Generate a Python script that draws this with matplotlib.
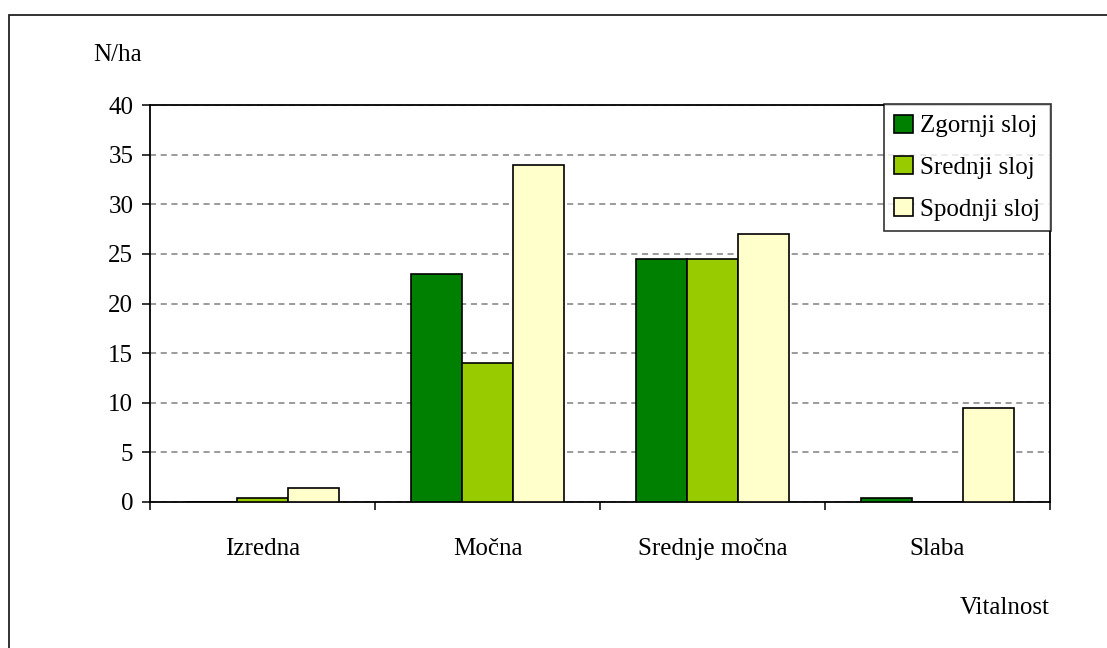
import matplotlib
matplotlib.use("Agg")
import matplotlib.pyplot as plt
import numpy as np
from matplotlib.patches import Rectangle

plt.rcParams['font.family'] = ['Liberation Serif', 'DejaVu Serif']

categories = ["Izredna", "Močna", "Srednje močna", "Slaba"]
series_names = ["Zgornji sloj", "Srednji sloj", "Spodnji sloj"]
zgornji = [0.0, 23.0, 24.5, 0.4]
srednji = [0.4, 14.0, 24.5, 0.0]
spodnji = [1.4, 34.0, 27.0, 9.5]
colors = ["#008000", "#99CC00", "#FFFFCC"]
y_ticks = [0, 5, 10, 15, 20, 25, 30, 35, 40]

W, H = 1107, 648
fig = plt.figure(figsize=(W / 100, H / 100), dpi=100)
fig.patch.set_facecolor("white")

# outer chart-area frame
fig.add_artist(Rectangle((9 / W, -0.1), 1.2, 1 - 15 / H + 0.1,
                         transform=fig.transFigure, fill=False,
                         edgecolor="#222222", linewidth=1.3))

ax = fig.add_axes([150 / W, (H - 502) / H, 900 / W, 397 / H])

x = np.arange(len(categories))
bw = 0.227
for i, (vals, name, col) in enumerate(zip([zgornji, srednji, spodnji], series_names, colors)):
    ax.bar(x + (i - 1) * bw, vals, bw, color=col, edgecolor="black",
           linewidth=1.2, label=name, zorder=3)

ax.set_xlim(-0.5, len(categories) - 0.5)
ax.set_ylim(0, 40)
ax.set_yticks(y_ticks)
ax.yaxis.grid(True, linestyle=(0, (4, 3)), color="#808080", linewidth=1.1, zorder=0)
ax.set_axisbelow(True)

# category labels centred, ticks on category boundaries
ax.set_xticks(np.arange(-0.5, len(categories), 1.0))
ax.set_xticklabels([])
ax.set_xticks(x, minor=True)
ax.set_xticklabels(categories, minor=True, fontsize=18)
ax.tick_params(axis="x", which="minor", length=0, pad=26)
ax.tick_params(axis="x", which="major", length=6, width=1.1, direction="out")
ax.tick_params(axis="y", length=6, width=1.1, direction="out", labelsize=18, pad=6)

for s in ax.spines.values():
    s.set_color("black")
    s.set_linewidth(1.3)

fig.text(118 / W, 1 - 55 / H, "N/ha", fontsize=18, ha="center", va="center")
fig.text(1005 / W, 1 - 608 / H, "Vitalnost", fontsize=18, ha="center", va="center")

leg = ax.legend(loc="upper right", bbox_to_anchor=(1051 / W, 1 - 104 / H),
                bbox_transform=fig.transFigure, fontsize=18, frameon=True,
                fancybox=False, shadow=False, handlelength=0.75, handleheight=0.75,
                handletextpad=0.3, labelspacing=0.75, borderpad=0.42,
                borderaxespad=0)
leg.get_frame().set_edgecolor("black")
leg.get_frame().set_linewidth(1.2)
for h in leg.legend_handles:
    h.set_edgecolor("black")
    h.set_linewidth(1.2)

fig.savefig("out.png", dpi=100, facecolor="white")
